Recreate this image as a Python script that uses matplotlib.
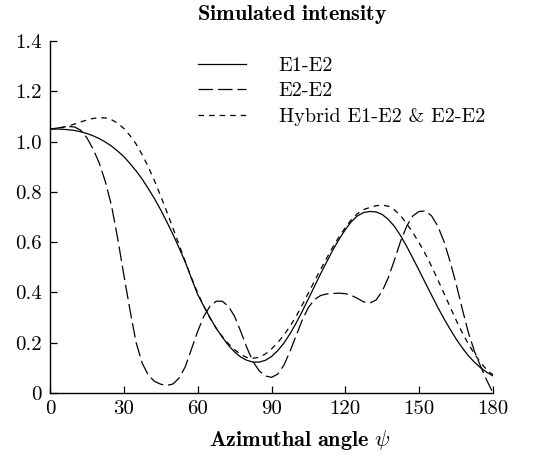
import matplotlib
matplotlib.use("Agg")
import matplotlib.pyplot as plt

plt.rcParams['font.family'] = ['cmr10', 'DejaVu Serif']
plt.rcParams['mathtext.fontset'] = 'cm'
plt.rcParams['axes.formatter.use_mathtext'] = True
plt.rcParams['lines.scale_dashes'] = False

# ---- data -------------------------------------------------------------
angle = [0, 2.5, 5, 7.5, 10, 12.5, 15, 17.5, 20, 22.5, 25, 27.5, 30, 32.5, 35, 37.5,
         40, 42.5, 45, 47.5, 50, 52.5, 55, 57.5, 60, 62.5, 65, 67.5, 70, 72.5, 75, 77.5,
         80, 82.5, 85, 87.5, 90, 92.5, 95, 97.5, 100, 102.5, 105, 107.5, 110, 112.5,
         115, 117.5, 120, 122.5, 125, 127.5, 130, 132.5, 135, 137.5, 140, 142.5, 145,
         147.5, 150, 152.5, 155, 157.5, 160, 162.5, 165, 167.5, 170, 172.5, 175, 177.5, 180]

e1_e2 = [1.050, 1.050, 1.049, 1.047, 1.044, 1.039, 1.032, 1.023, 1.012, 0.998, 0.982,
         0.962, 0.940, 0.913, 0.883, 0.850, 0.812, 0.772, 0.728, 0.680, 0.630, 0.576,
         0.520, 0.455, 0.392, 0.345, 0.300, 0.258, 0.222, 0.190, 0.163, 0.143, 0.130,
         0.123, 0.123, 0.130, 0.145, 0.168, 0.198, 0.235, 0.278, 0.325, 0.375, 0.425,
         0.475, 0.523, 0.570, 0.612, 0.650, 0.682, 0.705, 0.718, 0.722, 0.720, 0.710,
         0.690, 0.662, 0.625, 0.582, 0.535, 0.487, 0.438, 0.390, 0.342, 0.297, 0.255,
         0.215, 0.180, 0.148, 0.122, 0.100, 0.082, 0.068]

e2_e2 = [1.050, 1.053, 1.057, 1.060, 1.058, 1.045, 1.015, 0.970, 0.915, 0.840, 0.745,
         0.615, 0.470, 0.330, 0.200, 0.118, 0.070, 0.046, 0.035, 0.030, 0.036, 0.060,
         0.105, 0.175, 0.245, 0.305, 0.345, 0.365, 0.365, 0.345, 0.305, 0.245, 0.180,
         0.125, 0.088, 0.068, 0.062, 0.075, 0.110, 0.165, 0.228, 0.290, 0.340, 0.372,
         0.388, 0.394, 0.396, 0.397, 0.395, 0.388, 0.376, 0.362, 0.358, 0.370, 0.405,
         0.460, 0.530, 0.605, 0.665, 0.705, 0.722, 0.724, 0.705, 0.665, 0.605, 0.525,
         0.435, 0.335, 0.240, 0.165, 0.105, 0.050, 0.000]

hybrid = [1.050, 1.052, 1.056, 1.062, 1.070, 1.078, 1.086, 1.092, 1.095, 1.094, 1.087,
          1.073, 1.052, 1.024, 0.990, 0.947, 0.898, 0.843, 0.783, 0.720, 0.655, 0.588,
          0.522, 0.458, 0.398, 0.345, 0.298, 0.258, 0.225, 0.196, 0.172, 0.153, 0.141,
          0.138, 0.142, 0.155, 0.175, 0.200, 0.230, 0.265, 0.305, 0.350, 0.398, 0.446,
          0.492, 0.538, 0.582, 0.622, 0.658, 0.690, 0.714, 0.730, 0.738, 0.745, 0.747,
          0.743, 0.728, 0.705, 0.672, 0.637, 0.597, 0.553, 0.505, 0.452, 0.398, 0.344,
          0.290, 0.240, 0.195, 0.155, 0.120, 0.092, 0.072]

series_labels = ['E1-E2', 'E2-E2', 'Hybrid E1-E2 & E2-E2']
x_ticks = [0, 30, 60, 90, 120, 150, 180]
x_tick_labels = ['0', '30', '60', '90', '120', '150', '180']
y_ticks = [0, 0.2, 0.4, 0.6, 0.8, 1.0, 1.2, 1.4]
y_tick_labels = ['0', '0.2', '0.4', '0.6', '0.8', '1.0', '1.2', '1.4']

# ---- figure -----------------------------------------------------------
W, H = 536, 459
fig = plt.figure(figsize=(W / 100, H / 100), dpi=100)
ax = fig.add_axes([50 / W, 1 - 393 / H, 443 / W, 352 / H])

lw = 0.9
ax.plot(angle, e1_e2, color='black', lw=lw, linestyle='-', label=series_labels[0])
ax.plot(angle, e2_e2, color='black', lw=lw, linestyle=(0, (10.5, 3.5)), label=series_labels[1])
ax.plot(angle, hybrid, color='black', lw=lw, linestyle=(0, (4.0, 3.6)), label=series_labels[2])

ax.set_xlim(0, 180)
ax.set_ylim(0, 1.4)
ax.set_xticks(x_ticks)
ax.set_xticklabels(x_tick_labels)
ax.set_yticks(y_ticks)
ax.set_yticklabels(y_tick_labels)
ax.tick_params(direction='in', length=5, width=0.9, labelsize=15, colors='black')
ax.tick_params(axis='y', pad=6)
ax.tick_params(axis='x', pad=5)
ax.spines['top'].set_visible(False)
ax.spines['right'].set_visible(False)
for s in ('left', 'bottom'):
    ax.spines[s].set_linewidth(1.0)

leg = ax.legend(loc='upper left', bbox_to_anchor=(198 / W, 1 - 57 / H),
                bbox_transform=fig.transFigure, frameon=False, fontsize=14.5,
                handlelength=2.4, handletextpad=1.6, labelspacing=0.36,
                borderpad=0, borderaxespad=0)

fig.text(292 / W, 1 - 14 / H, r'$\mathbf{Simulated\ intensity}$', ha='center',
         va='center', fontsize=16)
fig.text(300 / W, 1 - 440 / H, r'$\mathbf{Azimuthal\ angle}\ \psi$', ha='center',
         va='center', fontsize=16)

fig.savefig('out.png', dpi=100)
